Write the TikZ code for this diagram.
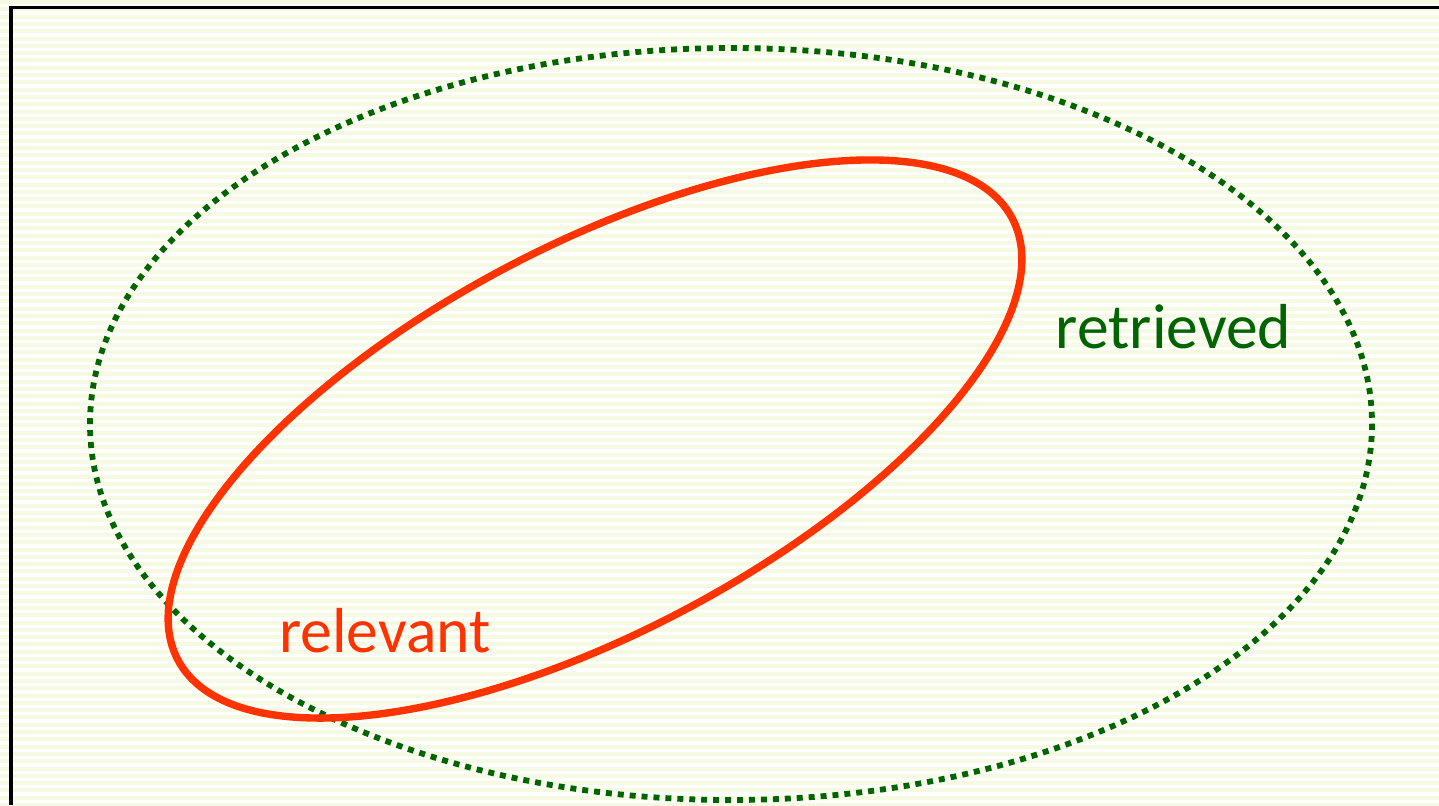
\documentclass[tikz,border=0pt]{standalone}
\usepackage{fontspec}
\setmainfont{Carlito}
\usepackage{xcolor}
\usepackage{tikz}
\definecolor{paper}{RGB}{247,250,226}
\definecolor{retc}{RGB}{0,100,0}
\definecolor{relc}{RGB}{255,51,0}

\begin{document}
\begin{tikzpicture}[x=0.02cm, y=-0.02cm,
    retset/.style={draw=retc, line width=3.3pt, dash pattern=on 3.4pt off 3.4pt},
    relset/.style={draw=relc, line width=4.2pt},
    setlabel/.style={anchor=base, font=\fontsize{36.2}{40}\selectfont}]
  \useasboundingbox (0,0) rectangle (1439,805);
  % striped background
  \fill[white] (0,0) rectangle (1439,805);
  \foreach \y in {0,7.3,...,805}
    \fill[paper] (0,\y) rectangle (1439,\y+4);
  \draw[line width=2.1pt] (11,805) -- (11,7.5) -- (1439,7.5);
  % the two sets
  \draw[retset] (731,424) ellipse [x radius=641, y radius=376];
  \draw[relset, rotate around={27.9:(595,439)}] (595,439) ellipse [x radius=472, y radius=193];
  \node[setlabel, text=retc] (retrieved) at (1173.5,348) {retrieved};
  \node[setlabel, text=relc] (relevant) at (385,652) {relevant};
\end{tikzpicture}
\end{document}
